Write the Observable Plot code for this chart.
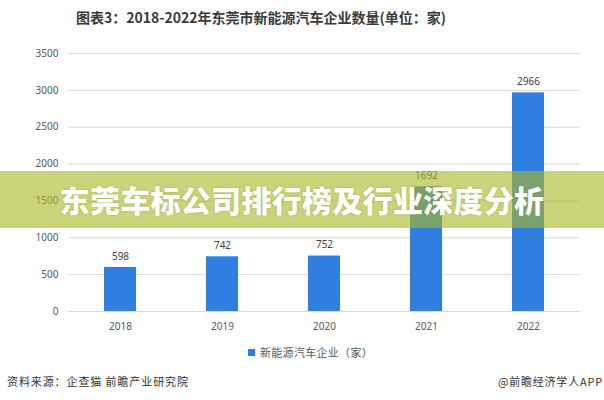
<!DOCTYPE html>
<html><head><meta charset="utf-8">
<script src="https://cdn.jsdelivr.net/npm/d3@7"></script>
<script src="https://cdn.jsdelivr.net/npm/@observablehq/plot@0.6"></script>
<style>
body{margin:0;background:#fff;font-family:"Noto Sans CJK SC","Noto Sans",sans-serif;}
#wrap{position:relative;width:604px;height:400px;overflow:hidden;background:#fff;}
#title{position:absolute;left:0;top:8px;width:522px;text-align:center;font-size:14px;font-weight:bold;color:#3a3a3a;line-height:18px;}
#chart{position:absolute;left:0;top:36px;}
#legend{position:absolute;left:248px;top:344px;font-size:11px;color:#595959;line-height:16px;letter-spacing:0.3px;}
#legend span.sw{display:inline-block;width:7px;height:7px;background:#2f7fe0;margin-right:5px;vertical-align:1px;}
#src{position:absolute;left:7px;top:373px;font-size:11px;color:#333;line-height:16px;letter-spacing:0.9px;}
#app{position:absolute;right:1px;top:373px;font-size:11px;color:#333;line-height:16px;letter-spacing:0.8px;}
#banner{position:absolute;left:0;top:171px;width:604px;height:57px;background:rgba(171,184,40,0.62);}
#banner div{position:absolute;left:0;width:604px;top:0;height:57px;line-height:57px;text-align:center;color:#fff;font-size:30px;font-weight:900;letter-spacing:0.3px;text-shadow:0 0 2px rgba(90,100,20,0.4);}
</style></head>
<body>
<div id="wrap">
<div id="title">图表3：2018-2022年东莞市新能源汽车企业数量(单位：家)</div>
<div id="chart"></div>
<div id="legend"><span class="sw"></span>新能源汽车企业（家）</div>
<div id="src">资料来源：企查猫 前瞻产业研究院</div>
<div id="app">@前瞻经济学人APP</div>
<div id="banner"><div>东莞车标公司排行榜及行业深度分析</div></div>
</div>
<script>
const years = ["2018","2019","2020","2021","2022"];
const counts = [598, 742, 752, 1692, 2966];
const yTicks = [0,500,1000,1500,2000,2500,3000,3500];
const data = years.map((y,i)=>({year:y, value:counts[i]}));
const chart = Plot.plot({
  width: 604, height: 300,
  marginLeft: 68, marginRight: 24, marginTop: 17, marginBottom: 25,
  style: {fontFamily: "'Noto Sans','DejaVu Sans',sans-serif", fontSize: "10px", color: "#595959", background: "transparent"},
  x: {domain: years, paddingInner: 0.6875, paddingOuter: 0.34375, label: null},
  y: {domain: [0, 3500], label: null},
  marks: [
    Plot.gridY(yTicks, {stroke: "#d9d9d9", strokeOpacity: 1}),
    Plot.axisY(yTicks, {tickSize: 0, tickPadding: 10, tickFormat: d => String(d), fill: "#595959", fontSize: 10}),
    Plot.axisX({tickSize: 0, tickPadding: 11, fill: "#595959", fontSize: 10}),
    Plot.barY(data, {x: "year", y: "value", fill: "#2f7fe0"}),
    Plot.text(data, {x: "year", y: "value", text: d => String(d.value), dy: -11, fill: "#404040", fontSize: 10})
  ]
});
document.getElementById("chart").appendChild(chart);
</script>
</body></html>
